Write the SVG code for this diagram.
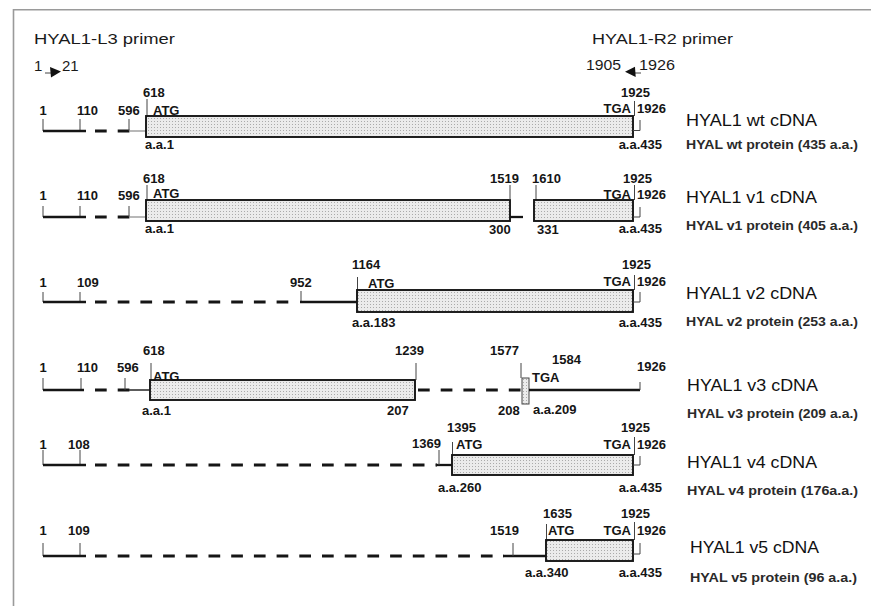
<svg xmlns="http://www.w3.org/2000/svg" width="871" height="606" viewBox="0 0 871 606">
<defs>
<pattern id="dots" width="3" height="3" patternUnits="userSpaceOnUse">
<rect width="3" height="3" fill="#ebebeb"/>
<rect x="1" y="1" width="1" height="1" fill="#aaaaaa"/>
</pattern>
<style>
.frame{stroke:#9a9a9a;stroke-width:1.6;fill:none}
.box{fill:url(#dots);stroke:#151515;stroke-width:1.9}
.sbox{fill:url(#dots);stroke:#444;stroke-width:1}
.solid{stroke:#151515;stroke-width:2.3;fill:none}
.mid{stroke:#333;stroke-width:1.6;fill:none}
.dash{stroke:#151515;stroke-width:2.8;stroke-dasharray:11.7 11;fill:none}
.thin{stroke:#9a9a9a;stroke-width:1.4;fill:none}
.tick{stroke:#444;stroke-width:1;fill:none}
.num{font-family:"Liberation Sans",Arial,sans-serif;font-size:13px;font-weight:bold;fill:#151515}
.end{text-anchor:end}
.mc{text-anchor:middle}
.lbl{font-family:"Liberation Sans",Arial,sans-serif;font-size:17px;fill:#111}
.prot{font-family:"Liberation Sans",Arial,sans-serif;font-size:13px;font-weight:bold;fill:#2a2a2a}
.primer{font-family:"Liberation Sans",Arial,sans-serif;font-size:15px;fill:#1a1a1a}
.arrow{fill:#111;stroke:none}
</style>
</defs>
<rect width="871" height="606" fill="#ffffff"/>
<path class="frame" d="M13.5 606 V9.8 H871"/>

<g id="primers">
<text class="primer" x="34" y="44" textLength="141" lengthAdjust="spacingAndGlyphs">HYAL1-L3 primer</text>
<text class="primer" x="34" y="71">1</text>
<text class="primer" x="62" y="71">21</text>
<text class="primer" x="592" y="44" textLength="141" lengthAdjust="spacingAndGlyphs">HYAL1-R2 primer</text>
<text class="primer" x="586" y="70" textLength="35" lengthAdjust="spacingAndGlyphs">1905</text>
<text class="primer" x="639" y="70" textLength="36" lengthAdjust="spacingAndGlyphs">1926</text>
</g>

<g id="connectors">
<line class="tick" x1="45" y1="73" x2="52" y2="73"/>
<polygon class="arrow" points="50,67 51,77.5 61,71.5"/>
<line class="tick" x1="634" y1="73" x2="641" y2="73"/>
<polygon class="arrow" points="635,66.7 635.7,77 625,71.7"/>
</g>

<g id="wt">
<line class="tick" x1="43" y1="119" x2="43" y2="131"/>
<line class="tick" x1="80" y1="119" x2="80" y2="131"/>
<line class="solid" x1="43" y1="131" x2="86" y2="131"/>
<line class="dash" x1="95" y1="131" x2="129.4" y2="131"/>
<line class="tick" x1="129" y1="119" x2="129" y2="131"/>
<line class="thin" x1="129" y1="131" x2="146" y2="131"/>
<line class="tick" x1="147" y1="99" x2="147" y2="116"/>
<rect class="box" x="146" y="116" width="487" height="21"/>
<line class="tick" x1="634.5" y1="101" x2="634.5" y2="116"/>
<path class="tick" d="M633 130.5 H640 V120"/>
<text class="num mc" x="43" y="115">1</text>
<text class="num" x="77" y="115">110</text>
<text class="num" x="118" y="115">596</text>
<text class="num" x="143" y="97">618</text>
<text class="num" x="153" y="115">ATG</text>
<text class="num" x="145" y="149">a.a.1</text>
<text class="num" x="621" y="97">1925</text>
<text class="num end" x="631" y="113">TGA</text>
<text class="num" x="637" y="113">1926</text>
<text class="num end" x="662" y="149">a.a.435</text>
<text class="lbl" x="686" y="126" textLength="131" lengthAdjust="spacingAndGlyphs">HYAL1 wt cDNA</text>
<text class="prot" x="686" y="149" textLength="172" lengthAdjust="spacingAndGlyphs">HYAL wt protein (435 a.a.)</text>
</g>

<g id="v1">
<line class="tick" x1="43" y1="206" x2="43" y2="217"/>
<line class="tick" x1="80" y1="206" x2="80" y2="217"/>
<line class="solid" x1="43" y1="217" x2="86" y2="217"/>
<line class="dash" x1="95" y1="217" x2="129.4" y2="217"/>
<line class="tick" x1="129" y1="206" x2="129" y2="217"/>
<line class="thin" x1="129" y1="217" x2="146" y2="217"/>
<line class="tick" x1="147" y1="185" x2="147" y2="200"/>
<rect class="box" x="146" y="200" width="364" height="21"/>
<line class="tick" x1="510" y1="185" x2="510" y2="200"/>
<line class="solid" x1="510" y1="217" x2="523" y2="217"/>
<line class="tick" x1="536" y1="185" x2="536" y2="200"/>
<rect class="box" x="534" y="200" width="99" height="21"/>
<line class="tick" x1="634.5" y1="185" x2="634.5" y2="200"/>
<path class="tick" d="M633 217 H640 V207"/>
<text class="num mc" x="43" y="200">1</text>
<text class="num" x="77" y="200">110</text>
<text class="num" x="118" y="200">596</text>
<text class="num" x="143" y="183">618</text>
<text class="num" x="153" y="198">ATG</text>
<text class="num" x="145" y="233">a.a.1</text>
<text class="num" x="490" y="183">1519</text>
<text class="num" x="532" y="183">1610</text>
<text class="num" x="489" y="234">300</text>
<text class="num" x="537" y="234">331</text>
<text class="num" x="623" y="183">1925</text>
<text class="num end" x="631" y="199">TGA</text>
<text class="num" x="637" y="199">1926</text>
<text class="num end" x="662" y="233">a.a.435</text>
<text class="lbl" x="686" y="203" textLength="131" lengthAdjust="spacingAndGlyphs">HYAL1 v1 cDNA</text>
<text class="prot" x="686" y="230" textLength="172" lengthAdjust="spacingAndGlyphs">HYAL v1 protein (405 a.a.)</text>
</g>

<g id="v2">
<line class="tick" x1="43" y1="292" x2="43" y2="302"/>
<line class="tick" x1="80" y1="292" x2="80" y2="302"/>
<line class="solid" x1="43" y1="302" x2="86" y2="302"/>
<line class="dash" x1="95" y1="302" x2="290" y2="302"/>
<line class="tick" x1="301" y1="291" x2="301" y2="302"/>
<line class="solid" x1="300" y1="302" x2="357" y2="302"/>
<line class="tick" x1="357.5" y1="277" x2="357.5" y2="290"/>
<rect class="box" x="357" y="290" width="276" height="22"/>
<line class="tick" x1="634.5" y1="275" x2="634.5" y2="290"/>
<path class="tick" d="M633 302 H640 V292"/>
<text class="num mc" x="43" y="287">1</text>
<text class="num" x="77" y="287">109</text>
<text class="num" x="290" y="287">952</text>
<text class="num" x="352" y="269">1164</text>
<text class="num" x="368" y="288">ATG</text>
<text class="num" x="352" y="327">a.a.183</text>
<text class="num" x="622" y="269">1925</text>
<text class="num end" x="631" y="286">TGA</text>
<text class="num" x="637" y="286">1926</text>
<text class="num end" x="662" y="327">a.a.435</text>
<text class="lbl" x="686" y="299" textLength="131" lengthAdjust="spacingAndGlyphs">HYAL1 v2 cDNA</text>
<text class="prot" x="686" y="326" textLength="172" lengthAdjust="spacingAndGlyphs">HYAL v2 protein (253 a.a.)</text>
</g>

<g id="v3">
<line class="tick" x1="43" y1="378" x2="43" y2="390"/>
<line class="tick" x1="81" y1="378" x2="81" y2="390"/>
<line class="solid" x1="43" y1="390" x2="84" y2="390"/>
<line class="dash" x1="95" y1="390" x2="129.4" y2="390"/>
<line class="tick" x1="125" y1="378" x2="125" y2="390"/>
<line class="mid" x1="129" y1="390" x2="150" y2="390"/>
<line class="tick" x1="151" y1="363" x2="151" y2="380"/>
<rect class="box" x="150" y="380" width="265" height="20"/>
<line class="tick" x1="416" y1="363" x2="416" y2="380"/>
<line class="dash" x1="418" y1="390" x2="521" y2="390"/>
<line class="tick" x1="521" y1="363" x2="521" y2="378"/>
<rect class="sbox" x="522" y="378" width="7" height="26"/>
<line class="solid" x1="529" y1="390" x2="640" y2="390"/>
<line class="tick" x1="640" y1="382" x2="640" y2="390"/>
<text class="num mc" x="43" y="372">1</text>
<text class="num" x="77" y="372">110</text>
<text class="num" x="117" y="372">596</text>
<text class="num" x="143" y="355">618</text>
<text class="num" x="153" y="381">ATG</text>
<text class="num" x="142" y="415">a.a.1</text>
<text class="num" x="395" y="355">1239</text>
<text class="num" x="387" y="415">207</text>
<text class="num" x="490" y="355">1577</text>
<text class="num" x="552" y="364">1584</text>
<text class="num" x="532" y="382">TGA</text>
<text class="num" x="498" y="415">208</text>
<text class="num" x="533" y="414">a.a.209</text>
<text class="num" x="637" y="371">1926</text>
<text class="lbl" x="687" y="391" textLength="131" lengthAdjust="spacingAndGlyphs">HYAL1 v3 cDNA</text>
<text class="prot" x="687" y="418" textLength="171" lengthAdjust="spacingAndGlyphs">HYAL v3 protein (209 a.a.)</text>
</g>

<g id="v4">
<line class="tick" x1="43" y1="450" x2="43" y2="465"/>
<line class="tick" x1="80" y1="450" x2="80" y2="465"/>
<line class="solid" x1="43" y1="465" x2="86" y2="465"/>
<line class="dash" x1="95" y1="465" x2="437" y2="465"/>
<line class="solid" x1="436" y1="465" x2="452" y2="465"/>
<line class="tick" x1="439" y1="450" x2="439" y2="465"/>
<line class="tick" x1="452.5" y1="442" x2="452.5" y2="455"/>
<rect class="box" x="452" y="455" width="181" height="20"/>
<line class="tick" x1="634.5" y1="437" x2="634.5" y2="455"/>
<path class="tick" d="M633 465 H640 V456"/>
<text class="num mc" x="43" y="449">1</text>
<text class="num" x="68" y="449">108</text>
<text class="num" x="412" y="448">1369</text>
<text class="num" x="447" y="432">1395</text>
<text class="num" x="456" y="449">ATG</text>
<text class="num" x="438" y="492">a.a.260</text>
<text class="num" x="621" y="432">1925</text>
<text class="num end" x="631" y="449">TGA</text>
<text class="num" x="637" y="449">1926</text>
<text class="num end" x="662" y="492">a.a.435</text>
<text class="lbl" x="687" y="468" textLength="130" lengthAdjust="spacingAndGlyphs">HYAL1 v4 cDNA</text>
<text class="prot" x="687" y="495" textLength="171" lengthAdjust="spacingAndGlyphs">HYAL v4 protein (176a.a.)</text>
</g>

<g id="v5">
<line class="tick" x1="43" y1="543" x2="43" y2="556"/>
<line class="tick" x1="80" y1="543" x2="80" y2="556"/>
<line class="solid" x1="43" y1="556" x2="86" y2="556"/>
<line class="dash" x1="95" y1="556" x2="504" y2="556"/>
<line class="solid" x1="503" y1="556" x2="546" y2="556"/>
<line class="tick" x1="513" y1="543" x2="513" y2="556"/>
<line class="tick" x1="546.5" y1="524" x2="546.5" y2="540"/>
<rect class="box" x="546" y="540" width="87" height="21"/>
<line class="tick" x1="634.5" y1="522" x2="634.5" y2="540"/>
<path class="tick" d="M633 554 H640 V543"/>
<text class="num mc" x="43" y="535">1</text>
<text class="num" x="68" y="535">109</text>
<text class="num" x="490" y="535">1519</text>
<text class="num" x="543" y="518">1635</text>
<text class="num" x="548" y="535">ATG</text>
<text class="num" x="525" y="577">a.a.340</text>
<text class="num" x="621" y="518">1925</text>
<text class="num end" x="631" y="535">TGA</text>
<text class="num" x="637" y="535">1926</text>
<text class="num end" x="662" y="577">a.a.435</text>
<text class="lbl" x="690" y="553" textLength="129" lengthAdjust="spacingAndGlyphs">HYAL1 v5 cDNA</text>
<text class="prot" x="690" y="582" textLength="167" lengthAdjust="spacingAndGlyphs">HYAL v5 protein (96 a.a.)</text>
</g>
</svg>
